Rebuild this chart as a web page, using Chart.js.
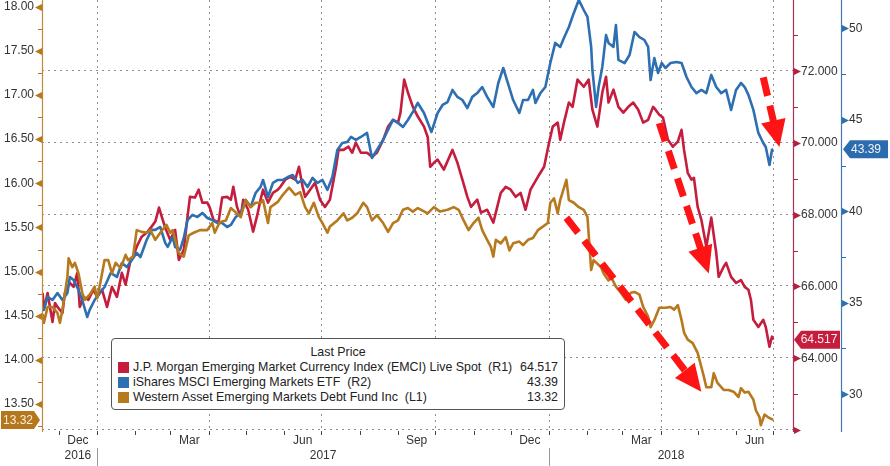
<!DOCTYPE html>
<html>
<head>
<meta charset="utf-8">
<script src="https://cdn.jsdelivr.net/npm/chart.js@4/dist/chart.umd.min.js"></script>
<style>
html,body{margin:0;padding:0;background:#fff;}
#wrap{position:relative;width:890px;height:466px;overflow:hidden;}
#c{position:absolute;left:0;top:0;}
#legend{position:absolute;left:111px;top:338px;width:454px;height:72px;box-sizing:border-box;border:1px solid #555;border-radius:4px;background:#fff;font:12.4px "Liberation Sans",Arial,sans-serif;color:#222;padding-top:6px;}
#legend .title{height:15px;line-height:15px;text-align:center;}
#legend .row{height:15px;line-height:15px;display:flex;align-items:center;white-space:pre;}
#legend .sw{display:inline-block;width:11px;height:11px;margin-left:6px;margin-right:4px;flex:none;}
#legend .nm{flex:1;}
#legend .val{padding-right:6px;}
</style>
</head>
<body>
<div id="wrap">
<canvas id="c" width="890" height="466"></canvas>
<div id="legend"></div>
</div>
<script>
// ---------- DATA (x = days since 2017-01-01) ----------
const BASE_DATE = '2017-01-01';

const emciDays = [-44,-43,-40,-36,-34,-32,-28,-26,-22,-19,-16,-14,-11,-7,-3,0,4,8,12,16,20,23,27,29,32,36,40,44,47,50,53,55,59,63,66,70,73,75,79,82,85,89,91,94,98,101,105,108,110,113,116,118,122,126,129,132,134,138,142,146,148,152,156,160,163,166,168,172,176,180,184,188,193,195,199,203,206,209,213,218,222,226,231,235,239,243,245,248,251,255,259,264,267,269,272,275,280,287,291,295,299,302,307,310,315,320,324,326,330,334,338,342,346,350,356,361,365,368,372,374,377,381,384,388,393,397,400,404,408,411,413,417,421,425,429,433,437,441,445,449,451,454,457,461,465,469,472,474,477,480,482,485,488,492,496,500,502,506,508,512,516,520,523,526,528,530,534,538,540,543,545,546];
const emciVals = [65.82,65.35,65.82,65.01,65.54,65.43,65.26,65.82,66.10,65.99,66.38,65.43,65.71,65.63,65.91,65.71,65.91,65.43,65.99,65.71,66.38,66.05,66.74,66.83,67.11,67.39,67.50,67.67,67.81,68.20,67.86,67.64,67.30,67.58,66.74,67.02,67.94,68.50,68.48,68.70,68.34,68.34,68.20,67.86,67.78,68.48,68.50,68.42,68.78,68.22,67.94,68.42,68.14,67.53,67.94,68.42,68.70,68.34,68.61,68.70,68.78,68.98,69.06,68.98,69.34,68.78,68.50,68.70,68.89,68.42,68.22,68.42,69.34,69.81,69.81,69.90,69.73,70.01,69.73,69.73,69.62,69.73,70.09,70.46,70.65,70.57,70.85,71.77,71.41,71.01,70.74,70.46,70.17,69.34,69.45,69.54,69.26,69.81,69.45,68.98,68.50,68.22,68.42,68.06,68.14,67.78,68.34,68.61,68.78,68.70,68.50,68.61,68.14,68.70,69.06,69.34,70.01,70.46,70.57,70.09,70.57,71.13,71.01,71.77,71.57,71.77,70.93,70.46,71.41,71.85,71.13,71.49,71.01,70.85,71.01,71.13,70.93,70.57,70.65,71.01,70.93,70.79,70.71,70.09,69.90,70.04,70.37,69.81,69.17,68.98,69.03,68.22,67.86,67.11,67.92,66.94,66.27,66.55,66.66,66.27,66.10,66.18,65.99,65.91,65.63,65.07,64.87,65.07,64.87,64.32,64.60,64.517];

const eemDays = [-44,-43,-40,-36,-32,-28,-24,-22,-19,-15,-12,-8,-6,-2,2,6,11,16,20,24,28,32,35,40,44,47,51,55,57,61,63,67,70,73,77,81,85,89,93,97,101,105,108,112,116,120,124,128,132,134,138,142,146,150,154,158,162,166,170,174,178,182,186,190,194,198,202,205,209,213,218,222,226,231,235,239,243,247,251,256,259,261,264,270,275,279,283,287,291,295,299,303,307,311,315,320,324,328,331,336,341,344,348,352,354,358,362,366,370,374,377,381,385,389,393,396,399,400,403,405,408,411,413,417,419,421,426,430,434,438,442,445,447,450,453,456,459,463,468,472,476,480,484,488,492,496,500,504,508,512,516,520,523,526,530,534,538,540,543,545,546];
const eemVals = [34.77,34.61,35.32,35.15,35.53,35.15,35.53,36.41,36.24,35.70,35.15,34.22,34.61,35.15,35.53,35.86,36.63,36.41,37.17,36.95,37.34,37.72,37.50,38.43,38.98,38.98,39.14,38.27,38.05,38.60,38.05,37.89,38.54,39.52,39.80,39.69,39.91,39.63,39.52,39.36,39.36,39.14,39.25,39.69,39.91,40.62,40.24,41.00,41.33,41.71,40.78,41.55,41.71,41.71,41.87,41.98,41.55,41.71,41.33,41.82,41.55,41.71,41.17,41.87,43.35,43.73,43.79,44.06,43.90,44.06,44.28,42.91,43.35,43.90,44.46,44.99,44.83,44.61,44.99,45.54,45.92,45.70,45.37,44.33,45.37,45.81,45.97,46.63,46.25,46.08,45.64,46.25,46.46,46.79,46.25,45.70,47.01,47.83,47.17,46.08,45.37,46.08,46.08,46.63,45.92,46.46,46.79,48.10,49.20,48.98,49.47,50.07,50.84,51.55,51.00,50.62,48.98,47.72,45.70,46.79,47.89,49.63,49.20,48.98,50.18,48.27,48.10,48.54,49.80,49.52,49.36,48.98,47.17,48.37,47.56,48.10,47.83,48.10,48.16,48.10,47.34,46.79,46.46,46.63,46.46,47.45,46.79,46.46,46.63,45.54,46.63,47.01,46.79,46.36,45.54,44.28,43.73,43.51,42.53,43.35,43.39];

const wamDays = [-44,-43,-40,-36,-32,-30,-28,-24,-23,-20,-18,-15,-12,-10,-6,-2,0,2,6,9,12,15,19,23,25,29,32,36,40,43,47,51,56,59,61,66,70,74,78,83,89,93,95,99,104,108,116,120,124,128,132,134,138,140,146,150,155,160,164,168,171,175,179,182,186,188,194,199,202,206,210,215,218,222,226,231,235,239,243,247,251,255,259,267,272,277,283,288,292,296,300,304,308,311,315,318,320,322,326,330,333,336,341,344,348,352,356,360,364,366,369,372,374,379,381,385,389,393,396,399,401,407,409,413,415,419,423,427,431,434,438,441,445,447,450,454,459,463,466,469,472,474,477,481,485,488,490,492,496,498,501,506,510,514,518,520,523,526,530,532,535,536,539,542,546];
const wamVals = [14.52,14.42,14.60,14.60,14.53,14.42,14.57,14.94,15.15,15.05,15.10,14.98,14.76,14.68,14.74,14.83,14.70,14.83,15.13,15.13,14.98,15.10,15.04,15.19,15.13,15.17,15.47,15.45,15.44,15.47,15.36,15.44,15.53,15.44,15.47,15.21,15.17,15.41,15.44,15.47,15.47,15.55,15.44,15.56,15.58,15.72,15.62,15.81,15.73,15.78,15.78,15.81,15.55,15.73,15.79,15.87,15.95,15.87,15.90,15.73,15.66,15.78,15.62,15.55,15.44,15.51,15.58,15.66,15.58,15.61,15.66,15.78,15.73,15.58,15.64,15.55,15.45,15.55,15.58,15.70,15.72,15.68,15.72,15.66,15.73,15.68,15.70,15.73,15.70,15.58,15.47,15.55,15.61,15.47,15.36,15.28,15.17,15.36,15.32,15.39,15.24,15.32,15.34,15.30,15.36,15.38,15.47,15.51,15.55,15.78,15.83,15.66,15.81,16.04,15.81,15.78,15.73,15.70,15.62,15.02,15.13,15.05,14.98,14.90,14.94,14.83,14.76,14.68,14.76,14.77,14.74,14.60,14.49,14.37,14.45,14.59,14.59,14.60,14.57,14.62,14.45,14.31,14.23,14.19,14.08,13.92,13.81,13.69,13.69,13.85,13.74,13.66,13.66,13.64,13.58,13.68,13.63,13.64,13.55,13.43,13.35,13.26,13.38,13.35,13.32];

const seriesNames = ['J.P. Morgan Emerging Market Currency Index (EMCI) Live Spot  (R1)', 'iShares MSCI Emerging Markets ETF  (R2)', 'Western Asset Emerging Markets Debt Fund Inc  (L1)'];
const lastPrices = ['64.517', '43.39', '13.32'];
const legendTitle = 'Last Price';

const monthLabels = ['Dec', 'Mar', 'Jun', 'Sep', 'Dec', 'Mar', 'Jun'];
const monthLabelMonths = ['2016-12', '2017-03', '2017-06', '2017-09', '2017-12', '2018-03', '2018-06'];
const yearLabels = ['2016', '2017', '2018'];
const quarterStarts = ['2017-01-01', '2017-04-01', '2017-07-01', '2017-10-01', '2018-01-01', '2018-04-01', '2018-07-01'];
const r1GridValues = [62, 64, 66, 68, 70, 72];

// annotation arrows: [startDay, startL1, tipDay, tipL1]
const arrowSpecs = [[454, 16.68, 494, 14.98], [379, 15.61, 488, 13.64], [538, 17.20, 551, 16.41]];

// ---------- helpers ----------
function dayOf(s) {
  const p = s.split('-').map(Number);
  const b = BASE_DATE.split('-').map(Number);
  return (Date.UTC(p[0], p[1] - 1, p[2] || 1) - Date.UTC(b[0], b[1] - 1, b[2])) / 864e5;
}
function pts(days, vals) { return days.map((d, i) => ({x: d, y: vals[i]})); }

const FONT = '"Liberation Sans", Arial, sans-serif';
const C_RED = '#c41d3d', C_BLUE = '#2d6fb1', C_BROWN = '#b7791d';

// ---------- legend (HTML text) ----------
(function buildLegend() {
  const lg = document.getElementById('legend');
  const cols = [C_RED, C_BLUE, C_BROWN];
  let h = '<div class="title">' + legendTitle + '</div>';
  seriesNames.forEach((n, i) => {
    h += '<div class="row"><span class="sw" style="background:' + cols[i] + '"></span><span class="nm">' + n + '</span><span class="val">' + lastPrices[i] + '</span></div>';
  });
  lg.innerHTML = h;
})();

// ---------- decoration plugin ----------
function zeroPad(s) { s.paddingTop = 0; s.paddingBottom = 0; s.paddingLeft = 0; s.paddingRight = 0; }

const deco = {
  id: 'deco',
  beforeDatasetsDraw(chart) {
    const {ctx, chartArea: ca, scales} = chart;
    const xs = scales.x, r1 = scales.yR1;
    ctx.save();
    ctx.strokeStyle = '#8d8d8d';
    ctx.lineWidth = 1;
    ctx.setLineDash([2, 4]);
    r1GridValues.forEach(v => {
      const y = Math.round(r1.getPixelForValue(v)) - 0.5;
      ctx.beginPath(); ctx.moveTo(ca.left, y); ctx.lineTo(ca.right, y); ctx.stroke();
    });
    quarterStarts.forEach(q => {
      const px = Math.round(xs.getPixelForValue(dayOf(q))) + 0.5;
      ctx.beginPath(); ctx.moveTo(px, ca.top); ctx.lineTo(px, ca.bottom); ctx.stroke();
    });
    ctx.restore();
  },
  afterDatasetsDraw(chart) {
    const {ctx, scales} = chart;
    const xs = scales.x, yl = scales.yL;
    ctx.save();
    arrowSpecs.forEach(a => {
      const x0 = xs.getPixelForValue(a[0]), y0 = yl.getPixelForValue(a[1]);
      const x1 = xs.getPixelForValue(a[2]), y1 = yl.getPixelForValue(a[3]);
      const dx = x1 - x0, dy = y1 - y0, L = Math.hypot(dx, dy);
      const ux = dx / L, uy = dy / L;
      const hl = 27, hw = 12.5;
      const bx = x1 - ux * hl, by = y1 - uy * hl;
      ctx.strokeStyle = '#fe1414';
      ctx.lineWidth = 7;
      ctx.lineCap = 'butt';
      ctx.setLineDash([19, 10]);
      ctx.beginPath(); ctx.moveTo(x0, y0); ctx.lineTo(bx + ux * 2, by + uy * 2); ctx.stroke();
      ctx.setLineDash([]);
      ctx.fillStyle = '#fe1414';
      ctx.beginPath();
      ctx.moveTo(x1, y1);
      ctx.lineTo(bx - uy * hw, by + ux * hw);
      ctx.lineTo(bx + uy * hw, by - ux * hw);
      ctx.closePath(); ctx.fill();
    });
    ctx.restore();
  },
  afterDraw(chart) {
    const {ctx, chartArea: ca, scales} = chart;
    const xs = scales.x, yl = scales.yL, r1 = scales.yR1, r2 = scales.yR2;
    ctx.save();
    ctx.setLineDash([]);
    const axisLine = (x, col) => { ctx.strokeStyle = col; ctx.lineWidth = 1.2; ctx.beginPath(); ctx.moveTo(x, 0); ctx.lineTo(x, ca.bottom + 1); ctx.stroke(); };
    axisLine(ca.left + 0.5, '#bf8a3a');
    axisLine(ca.right + 0.5, '#a8344f');
    axisLine(r2.left + 0.5, '#4379b3');

    function yTicks(scale, isMajor, col, side, x) {
      ctx.fillStyle = col; ctx.strokeStyle = col; ctx.lineWidth = 1;
      scale.ticks.forEach(t => {
        const y = Math.round(scale.getPixelForValue(t.value));
        if (isMajor(t.value)) {
          ctx.beginPath();
          if (side < 0) { ctx.moveTo(x - 7, y + 0.5); ctx.lineTo(x, y - 3); ctx.lineTo(x, y + 4); }
          else { ctx.moveTo(x + 7, y + 0.5); ctx.lineTo(x, y - 3); ctx.lineTo(x, y + 4); }
          ctx.closePath(); ctx.fill();
        } else {
          ctx.beginPath(); ctx.moveTo(x, y + 0.5); ctx.lineTo(x + side * 4, y + 0.5); ctx.stroke();
        }
      });
    }
    const near = (v, m) => Math.abs(v / m - Math.round(v / m)) < 1e-6;
    yTicks(yl, v => near(v, 0.5), '#b7791d', -1, ca.left);
    yTicks(r1, v => near(v, 2), '#b5203f', 1, ca.right + 1);
    yTicks(r2, v => near(v, 5), '#2d6fb1', 1, r2.left + 1);

    ctx.strokeStyle = '#444'; ctx.lineWidth = 1;
    for (let y = 2016, m = 12; y < 2018 || m <= 7; ) {
      const d = dayOf(y + '-' + String(m).padStart(2, '0') + '-01');
      const px = Math.round(xs.getPixelForValue(d)) + 0.5;
      ctx.beginPath(); ctx.moveTo(px, ca.bottom); ctx.lineTo(px, ca.bottom + 4); ctx.stroke();
      m++; if (m > 12) { m = 1; y++; }
    }
    ctx.fillStyle = '#333';
    ctx.font = '12px ' + FONT;
    ctx.textAlign = 'center'; ctx.textBaseline = 'middle';
    const mids = monthLabelMonths.map(s => {
      const p = s.split('-').map(Number);
      const st = dayOf(s + '-01');
      const en = dayOf((p[1] === 12 ? p[0] + 1 : p[0]) + '-' + String(p[1] === 12 ? 1 : p[1] + 1).padStart(2, '0') + '-01');
      return xs.getPixelForValue((st + en) / 2);
    });
    monthLabels.forEach((t, i) => ctx.fillText(t, mids[i], ca.bottom + 10));
    const j17 = xs.getPixelForValue(dayOf('2017-01-01'));
    const j18 = xs.getPixelForValue(dayOf('2018-01-01'));
    const yx = [mids[0], (j17 + j18) / 2, (j18 + ca.right) / 2];
    yearLabels.forEach((t, i) => ctx.fillText(t, yx[i], ca.bottom + 25));
    ctx.strokeStyle = '#999';
    [j17, j18].forEach(px => { ctx.beginPath(); ctx.moveTo(Math.round(px) + 0.5, ca.bottom + 17); ctx.lineTo(Math.round(px) + 0.5, 466); ctx.stroke(); });

    function badge(text, y, bodyL, bodyR, tipX, col, txtCol, tx) {
      const h = 9;
      ctx.beginPath();
      if (tipX < bodyL) {
        ctx.moveTo(tipX, y); ctx.lineTo(bodyL, y - h); ctx.lineTo(bodyR, y - h); ctx.lineTo(bodyR, y + h); ctx.lineTo(bodyL, y + h);
      } else {
        ctx.moveTo(tipX, y); ctx.lineTo(bodyR, y + h); ctx.lineTo(bodyL, y + h); ctx.lineTo(bodyL, y - h); ctx.lineTo(bodyR, y - h);
      }
      ctx.closePath(); ctx.fillStyle = col; ctx.fill();
      ctx.fillStyle = txtCol; ctx.font = '12px ' + FONT; ctx.textAlign = 'center'; ctx.textBaseline = 'middle';
      ctx.fillText(text, tx, y + 0.5);
    }
    const lastE = emciVals[emciVals.length - 1], lastB = eemVals[eemVals.length - 1], lastW = wamVals[wamVals.length - 1];
    badge(lastPrices[1], r2.getPixelForValue(lastB), r2.left + 9, 888, r2.left + 2, '#2c6cae', '#eef4fb', r2.left + 25);
    badge(lastPrices[0], r1.getPixelForValue(lastE), ca.right + 8, r2.left - 1, ca.right + 1, '#c41d3d', '#fbe9ec', ca.right + 26);
    badge(lastPrices[2], yl.getPixelForValue(lastW), 1, ca.left - 8, ca.left - 2, '#b5761c', '#fbefd9', 18);
    ctx.restore();
  }
};

// ---------- chart ----------
const tickFont = {family: FONT, size: 12};
new Chart(document.getElementById('c'), {
  type: 'line',
  data: {
    datasets: [
      {label: seriesNames[2], data: pts(wamDays, wamVals), yAxisID: 'yL', borderColor: C_BROWN, order: 0},
      {label: seriesNames[1], data: pts(eemDays, eemVals), yAxisID: 'yR2', borderColor: C_BLUE, order: 1},
      {label: seriesNames[0], data: pts(emciDays, emciVals), yAxisID: 'yR1', borderColor: C_RED, order: 2}
    ]
  },
  options: {
    responsive: false,
    animation: false,
    devicePixelRatio: 1,
    layout: {padding: 0},
    elements: {point: {radius: 0}, line: {borderWidth: 2.6, tension: 0, borderJoinStyle: 'round'}},
    plugins: {legend: {display: false}, tooltip: {enabled: false}},
    scales: {
      x: {
        type: 'linear', min: -44.5, max: 562,
        grid: {display: false, drawTicks: false}, border: {display: false},
        ticks: {display: false},
        afterFit(s) { s.height = 35; zeroPad(s); }
      },
      yL: {
        type: 'linear', position: 'left', min: 13.195, max: 18.076,
        grid: {display: false, drawTicks: false}, border: {display: false},
        ticks: {stepSize: 0.25, includeBounds: false, autoSkip: false, padding: 8, color: '#333', font: tickFont,
          callback: v => Math.abs(v * 2 - Math.round(v * 2)) < 1e-6 ? v.toFixed(2) : ''},
        afterFit(s) { s.width = 42; zeroPad(s); }
      },
      yR1: {
        type: 'linear', position: 'right', min: 61.97, max: 73.99,
        grid: {display: false, drawTicks: false}, border: {display: false},
        ticks: {stepSize: 1, includeBounds: false, autoSkip: false, padding: 8, color: '#333', font: tickFont,
          callback: v => (Math.round(v) % 2 === 0 && v >= 64 && v <= 72) ? v.toFixed(3) : ''},
        afterFit(s) { s.width = 48; zeroPad(s); }
      },
      yR2: {
        type: 'linear', position: 'right', min: 27.99, max: 51.546,
        grid: {display: false, drawTicks: false}, border: {display: false},
        ticks: {stepSize: 2.5, includeBounds: false, autoSkip: false, padding: 8, color: '#333', font: tickFont,
          callback: v => Math.abs(v / 5 - Math.round(v / 5)) < 1e-6 ? String(v) : ''},
        afterFit(s) { s.width = 49; zeroPad(s); }
      }
    }
  },
  plugins: [deco]
});
</script>
</body>
</html>
